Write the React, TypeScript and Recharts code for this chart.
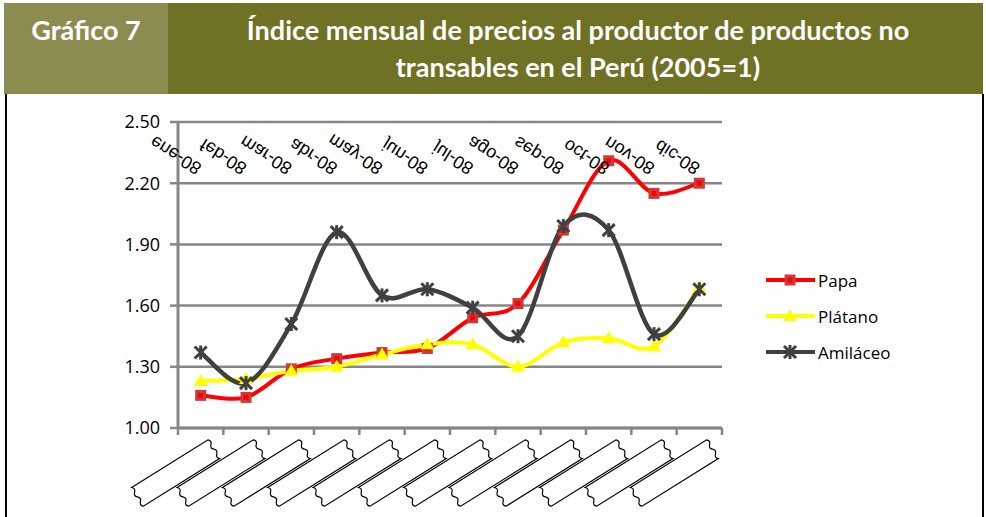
import { LineChart, Line, XAxis, YAxis, CartesianGrid } from "recharts";

// Índice mensual 2008 (2005=1)
const months = ["ene-08", "feb-08", "mar-08", "abr-08", "may-08", "jun-08", "jul-08", "ago-08", "sep-08", "oct-08", "nov-08", "dic-08"];
const papa = [1.16, 1.15, 1.29, 1.34, 1.37, 1.39, 1.54, 1.61, 1.97, 2.31, 2.15, 2.2];
const platano = [1.23, 1.24, 1.28, 1.3, 1.36, 1.41, 1.41, 1.3, 1.42, 1.44, 1.4, 1.69];
const amilaceo = [1.37, 1.22, 1.51, 1.96, 1.65, 1.68, 1.59, 1.45, 1.99, 1.97, 1.46, 1.68];
const yTicks = [1, 1.3, 1.6, 1.9, 2.2, 2.5];

const data = months.map((m, i) => ({
  mes: m,
  papa: papa[i],
  platano: platano[i],
  amilaceo: amilaceo[i],
}));

const GRAY = "#868686";
const FONT = "'Open Sans', sans-serif";
const HALF_BAND = 544 / 12 / 2;

// Excel-like smoothed line (Catmull-Rom as cubic bezier)
const excelSmooth = (context: any) => {
  let pts: number[][] = [];
  return {
    areaStart() {},
    areaEnd() {},
    lineStart() {
      pts = [];
    },
    lineEnd() {
      if (!pts.length) return;
      context.moveTo(pts[0][0], pts[0][1]);
      for (let i = 0; i < pts.length - 1; i++) {
        const p0 = pts[i - 1] || pts[i];
        const p1 = pts[i];
        const p2 = pts[i + 1];
        const p3 = pts[i + 2] || p2;
        context.bezierCurveTo(
          p1[0] + (p2[0] - p0[0]) / 6,
          p1[1] + (p2[1] - p0[1]) / 6,
          p2[0] - (p3[0] - p1[0]) / 6,
          p2[1] - (p3[1] - p1[1]) / 6,
          p2[0],
          p2[1]
        );
      }
    },
    point(x: number, y: number) {
      pts.push([+x, +y]);
    },
  };
};

const SquareDot = ({ cx, cy }: any) => (
  <g>
    <rect x={cx - 5.5} y={cy - 5.5} width={11} height={11} fill="#CC3B3B" />
    <rect x={cx - 2.5} y={cy - 2.5} width={5} height={5} fill="#FF0000" />
  </g>
);

const TriangleDot = ({ cx, cy }: any) => (
  <path d={`M${cx},${cy - 7}L${cx + 7},${cy + 5}L${cx - 7},${cy + 5}Z`} fill="#FFFF00" />
);

const StarDot = ({ cx, cy }: any) => (
  <g stroke="#404040" strokeWidth={3}>
    <line x1={cx - 6} y1={cy - 6} x2={cx + 6} y2={cy + 6} />
    <line x1={cx - 6} y1={cy + 6} x2={cx + 6} y2={cy - 6} />
    <line x1={cx} y1={cy - 7} x2={cx} y2={cy + 7} />
  </g>
);

// mirrored month labels above the plot
const MirrorTick = ({ x, y, payload }: any) => (
  <g transform={`translate(${x + 2},${y + 43}) rotate(32) scale(1,-1)`}>
    <text x={0} y={0} textAnchor="end" fontSize={18} fontFamily="'Liberation Sans', sans-serif" fill="#000">
      {payload.value}
    </text>
  </g>
);

const wave = "q 3 2.75 0 5.5 q -3 2.75 0 5.5 q 3 2.75 0 5.5 q -3 2.75 0 5.5";
const waveUp = "q -3 -2.75 0 -5.5 q 3 -2.75 0 -5.5 q -3 -2.75 0 -5.5 q 3 -2.75 0 -5.5";

// empty label boxes under the axis, plus tick marks at category edges
const BoxTick = ({ x, y, index, visibleTicksCount }: any) => (
  <g>
    <line x1={x - HALF_BAND} y1={y} x2={x - HALF_BAND} y2={y + 7} stroke={GRAY} strokeWidth={2.5} />
    {index === visibleTicksCount - 1 && (
      <line x1={x + HALF_BAND} y1={y} x2={x + HALF_BAND} y2={y + 7} stroke={GRAY} strokeWidth={2.5} />
    )}
    <g transform={`translate(${x - 25},${y + 45}) rotate(-32)`}>
      <path d={`M-45,-11 L45,-11 ${wave} L-45,11 ${waveUp} Z`} fill="#fff" stroke="#000" strokeWidth={1.2} />
    </g>
  </g>
);

const legendItems = [
  { name: "Papa", color: "#FF0000", kind: "square" },
  { name: "Plátano", color: "#FFFF00", kind: "triangle" },
  { name: "Amiláceo", color: "#404040", kind: "star" },
];

const LegendBox = () => (
  <div style={{ position: "absolute", left: 766, top: 262, fontFamily: FONT, fontSize: 17, color: "#000" }}>
    {legendItems.map((it) => (
      <div key={it.name} style={{ display: "flex", alignItems: "center", height: 36 }}>
        <svg width={52} height={20}>
          <line x1={0} y1={10} x2={49} y2={10} stroke={it.color} strokeWidth={4} />
          {it.kind === "square" && <SquareDot cx={24} cy={10} />}
          {it.kind === "triangle" && <TriangleDot cx={24} cy={10} />}
          {it.kind === "star" && <StarDot cx={24} cy={10} />}
        </svg>
        <span>{it.name}</span>
      </div>
    ))}
  </div>
);

export default function App() {
  return (
    <div style={{ position: "fixed", left: 0, top: 0, width: 986, height: 517, background: "#fff", overflow: "hidden" }}>
      <div style={{ position: "absolute", left: 4, top: 3, width: 979, height: 91, background: "#6F7124" }} />
      <div style={{ position: "absolute", left: 4, top: 3, width: 164, height: 91, background: "#8D8C50" }} />
      <div
        style={{
          position: "absolute",
          left: 4,
          top: 11,
          width: 164,
          textAlign: "center",
          color: "#fff",
          fontFamily: "Lato, sans-serif",
          fontWeight: 700,
          fontSize: 27,
          lineHeight: "37px",
        }}
      >
        Gráfico 7
      </div>
      <div
        style={{
          position: "absolute",
          left: 168,
          top: 11,
          width: 820,
          textAlign: "center",
          color: "#fff",
          fontFamily: "Lato, sans-serif",
          fontWeight: 700,
          fontSize: 27,
          lineHeight: "37px",
        }}
      >
        Índice mensual de precios al productor de productos no
        <br />
        transables en el Perú (2005=1)
      </div>
      <div
        style={{
          position: "absolute",
          left: 5,
          top: 94,
          width: 975,
          height: 430,
          borderLeft: "2px solid #000",
          borderRight: "2px solid #000",
        }}
      />
      <div style={{ position: "absolute", left: 0, top: 95 }}>
        <LineChart width={986} height={422} data={data} margin={{ top: 26, right: 264, bottom: 0, left: 0 }}>
          <CartesianGrid horizontal vertical={false} stroke={GRAY} strokeWidth={2.5} />
          <XAxis
            dataKey="mes"
            height={89}
            interval={0}
            padding={{ left: HALF_BAND, right: HALF_BAND }}
            axisLine={{ stroke: GRAY, strokeWidth: 3 }}
            tickLine={false}
            tickSize={0}
            tickMargin={0}
            tick={<BoxTick />}
          />
          <XAxis
            xAxisId="top"
            dataKey="mes"
            orientation="top"
            height={1}
            interval={0}
            padding={{ left: HALF_BAND, right: HALF_BAND }}
            axisLine={false}
            tickLine={false}
            tickSize={0}
            tickMargin={0}
            tick={<MirrorTick />}
          />
          <YAxis
            width={178}
            domain={[1, 2.5]}
            ticks={yTicks}
            interval={0}
            axisLine={{ stroke: GRAY, strokeWidth: 3 }}
            tickLine={{ stroke: GRAY, strokeWidth: 2.5 }}
            tickSize={8}
            tickMargin={10}
            tick={{ fill: "#000", fontSize: 18, fontFamily: FONT }}
            tickFormatter={(v: number) => v.toFixed(2)}
          />
          <Line
            dataKey="papa"
            name="Papa"
            type={excelSmooth as any}
            stroke="#FF0000"
            strokeWidth={4}
            dot={<SquareDot />}
            isAnimationActive={false}
          />
          <Line
            dataKey="platano"
            name="Plátano"
            type={excelSmooth as any}
            stroke="#FFFF00"
            strokeWidth={4}
            dot={<TriangleDot />}
            isAnimationActive={false}
          />
          <Line
            dataKey="amilaceo"
            name="Amiláceo"
            type={excelSmooth as any}
            stroke="#404040"
            strokeWidth={4.5}
            dot={<StarDot />}
            isAnimationActive={false}
          />
        </LineChart>
      </div>
      <LegendBox />
    </div>
  );
}
